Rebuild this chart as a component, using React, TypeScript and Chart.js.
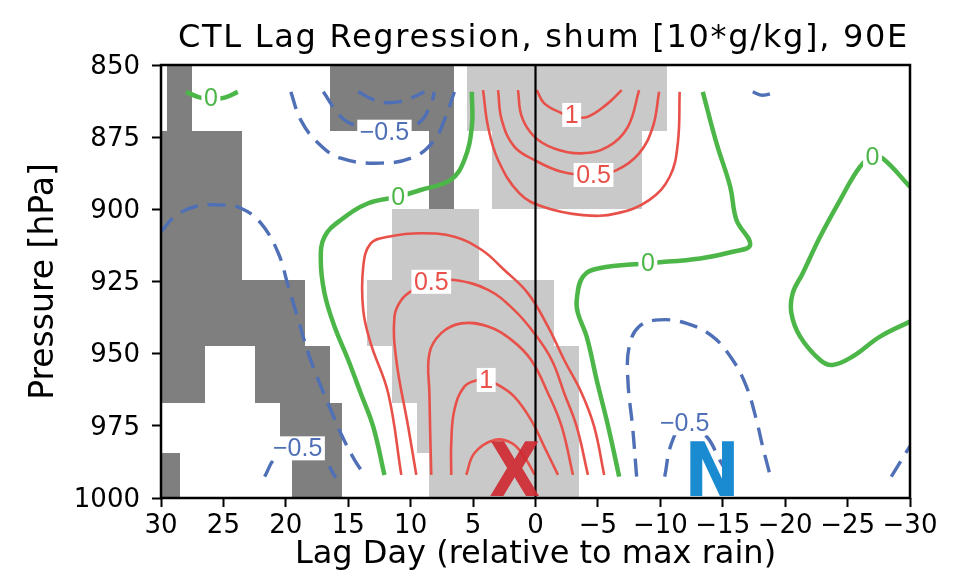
import { useEffect, useRef } from 'react';
import { Chart, registerables } from 'chart.js';

Chart.register(...registerables);

const TITLE = 'CTL Lag Regression, shum [10*g/kg], 90E';
const X_TITLE = 'Lag Day (relative to max rain)';
const Y_TITLE = 'Pressure [hPa]';

const X_TICKS = [30, 25, 20, 15, 10, 5, 0, -5, -10, -15, -20, -25, -30];
const Y_TICKS = [850, 875, 900, 925, 950, 975, 1000];

// pressure edges of the significance rows
const LEVEL_EDGES = [850, 873, 900, 924.5, 947.5, 967, 984.5, 1000];

// [row, fromDay, toDay]  significant negative (dark) / positive (light)
const NEG_SIG_CELLS: [number, number, number][] = [
  [0, 29.5, 27.5], [0, 16.5, 6.5],
  [1, 30, 23.5], [1, 8.5, 6.5],
  [2, 30, 23.5],
  [3, 30, 18.5],
  [4, 30, 26.5], [4, 22.5, 16.5],
  [5, 20.5, 15.5],
  [6, 30, 28.5], [6, 19.5, 15.5],
];
const POS_SIG_CELLS: [number, number, number][] = [
  [0, 5.5, -10.5],
  [1, 3.5, -8.5],
  [2, 11.5, 4.5],
  [3, 13.5, -1.5],
  [4, 11.5, -3.5],
  [5, 9.5, -3.5],
  [6, 8.5, -3.5],
];

// contour lines: [lag day, hPa]
const ZERO_A = [[28.0, 859.3], [27.0, 861.1], [26.0, 861.8], [24.9, 861.3], [23.85, 859.3]];
const ZERO_B = [[5.1, 859.3], [5.1, 871.4], [5.7, 882.9], [6.8, 889.8], [9.2, 893.3], [11.0, 895.6], [13.4, 897.9], [15.6, 903.7], [16.9, 909.5], [17.2, 917.5], [16.9, 929.1], [16.1, 940.6], [15.0, 952.2], [14.0, 963.7], [13.0, 975.3], [12.1, 992.0]];
const ZERO_C = [[-13.4, 859.3], [-14.5, 877.1], [-15.6, 892.2], [-16.1, 903.7], [-17.2, 912.3], [-15.8, 914.7], [-13.2, 917.0], [-9.0, 918.7], [-5.1, 920.4], [-3.8, 923.3], [-3.3, 931.4], [-3.4, 936.0], [-4.1, 944.1], [-4.9, 959.1], [-5.7, 973.0], [-6.3, 984.5], [-6.7, 992.6]];
const ZERO_D = [[-30, 892.2], [-27.8, 882.3], [-27.0, 881.8], [-26.0, 885.2], [-24.4, 896.8], [-22.8, 909.5], [-21.4, 922.2], [-20.6, 929.1], [-20.5, 936.0], [-21.2, 944.1], [-22.8, 952.2], [-23.8, 953.9], [-25.4, 951.0], [-27.6, 944.1], [-30, 938.9]];

const POS25_TOP = [[4.2, 858.7], [3.8, 871.4], [3.0, 882.9], [1.3, 894.4], [-0.6, 899.1], [-3.8, 902.0], [-6.5, 901.4], [-9.1, 896.8], [-10.75, 888.7], [-11.4, 877.1], [-11.55, 859.3]];
const POS50_TOP = [[3.0, 858.7], [2.7, 869.1], [1.7, 878.3], [0.1, 882.9], [-2.1, 887.0], [-4.6, 888.1], [-6.5, 886.4], [-8.3, 880.6], [-9.4, 871.4], [-9.9, 859.3]];
const POS75_TOP = [[1.4, 858.7], [1.1, 867.9], [0.1, 874.8], [-1.5, 878.9], [-3.7, 880.6], [-5.8, 878.3], [-7.4, 871.4], [-8.3, 858.7]];
const POS100_TOP = [[-0.1, 858.7], [-0.7, 863.3], [-2.1, 866.7], [-2.9, 867.9], [-4.2, 867.9], [-5.8, 863.3], [-6.9, 858.7]];

const POS25_LOW = [[10.75, 992.0], [11.8, 963.7], [13.2, 946.4], [13.8, 934.9], [13.8, 919.9], [13.2, 911.8], [11.8, 909.5], [9.15, 908.3], [6.5, 909.5], [4.3, 914.1], [2.5, 921.0], [0.6, 929.1], [-1.0, 940.6], [-2.3, 952.2], [-3.7, 963.7], [-4.7, 975.3], [-5.5, 992.0]];
const POS50_LOW = [[9.55, 992.0], [10.2, 975.3], [11.15, 952.2], [11.3, 937.2], [10.75, 931.4], [9.8, 927.9], [8.35, 925.1], [6.5, 924.5], [3.8, 927.9], [1.7, 934.9], [0.1, 942.9], [-1.3, 952.2], [-2.3, 963.7], [-3.3, 975.3], [-4.2, 992.0]];
const POS75_LOW = [[8.35, 992.0], [8.5, 963.7], [8.5, 949.9], [7.55, 942.9], [5.95, 939.5], [3.8, 940.6], [1.9, 945.3], [0.35, 952.2], [-1.0, 963.7], [-2.1, 975.3], [-3.0, 992.0]];
const POS100_LOW = [[6.75, 992.0], [6.75, 981.0], [6.5, 969.5], [5.7, 961.4], [4.6, 959.1], [3.9, 959.1], [3.0, 960.8], [1.7, 964.9], [0.35, 973.0], [-0.7, 982.2], [-1.8, 992.0]];
const POS125_LOW = [[5.55, 992.0], [4.9, 984.5], [3.3, 979.9], [1.9, 981.0], [0.9, 985.7], [0.05, 992.0]];

const NEG25_TOP = [[19.6, 859.3], [18.8, 869.1], [17.4, 877.1], [15.6, 882.3], [12.4, 884.0], [9.7, 881.8], [8.1, 876.0], [7.3, 869.1], [6.5, 859.3]];
const NEG50_TOP = [[17.0, 859.3], [15.6, 867.9], [14.5, 870.8], [12.1, 873.1], [9.4, 870.2], [8.35, 863.3], [8.1, 859.3]];
const NEG75_TOP = [[14.2, 859.3], [13.0, 862.0], [12.0, 863.0], [11.0, 862.8], [10.0, 861.5], [8.9, 859.3]];
const NEG25_LEFT = [[30.0, 907.8], [28.9, 902.5], [27.3, 899.1], [25.2, 898.5], [23.6, 899.6], [22.0, 904.8], [20.6, 915.2], [19.8, 926.8], [19.0, 938.3], [18.2, 949.9], [17.4, 959.1], [16.4, 969.5], [15.6, 977.6], [14.5, 986.8], [13.7, 992.0]];
const NEG50_LEFT = [[21.7, 992.6], [20.8, 986.0], [19.0, 983.0], [17.1, 986.0], [16.0, 993.0]];
const NEG25_RIGHT = [[-8.1, 992.6], [-7.8, 976.4], [-7.4, 959.1], [-7.5, 947.6], [-8.3, 940.6], [-9.9, 938.3], [-12.1, 939.5], [-14.2, 944.1], [-15.8, 952.2], [-16.9, 961.4], [-17.7, 973.0], [-18.2, 982.2], [-18.75, 991.4]];
const NEG50_RIGHT = [[-10.35, 992.6], [-10.9, 981.0], [-11.95, 974.1], [-13.7, 978.7], [-14.75, 986.8], [-15.55, 992.6]];
const NEG25_TOPRIGHT = [[-17.4, 859.3], [-18.2, 860.5], [-19.3, 859.3]];
const NEG25_BOTRIGHT = [[-28.5, 992.6], [-30.0, 982.0]];

const CONTOURS: { level: number; pts: number[][] }[] = [
  { level: 0, pts: ZERO_A }, { level: 0, pts: ZERO_B }, { level: 0, pts: ZERO_C }, { level: 0, pts: ZERO_D },
  { level: 0.25, pts: POS25_TOP }, { level: 0.5, pts: POS50_TOP }, { level: 0.75, pts: POS75_TOP }, { level: 1, pts: POS100_TOP },
  { level: 0.25, pts: POS25_LOW }, { level: 0.5, pts: POS50_LOW }, { level: 0.75, pts: POS75_LOW }, { level: 1, pts: POS100_LOW }, { level: 1.25, pts: POS125_LOW },
  { level: -0.25, pts: NEG25_TOP }, { level: -0.5, pts: NEG50_TOP }, { level: -0.75, pts: NEG75_TOP },
  { level: -0.25, pts: NEG25_LEFT }, { level: -0.5, pts: NEG50_LEFT },
  { level: -0.25, pts: NEG25_RIGHT }, { level: -0.5, pts: NEG50_RIGHT },
  { level: -0.25, pts: NEG25_TOPRIGHT }, { level: -0.25, pts: NEG25_BOTRIGHT },
];

// contour labels
const LABEL_DAYS = [26.0, 11.0, -9.0, -27.0, 12.1, 19.05, -11.95, -2.9, -4.65, 8.35, 3.95];
const LABEL_LEVELS = [861.6, 895.6, 918.7, 881.8, 873.1, 982.8, 974.1, 867.3, 888.1, 925.1, 959.1];
const LABEL_VALUES = [0, 0, 0, 0, -0.5, -0.5, -0.5, 1, 0.5, 0.5, 1];

// markers
const MARKER_TEXTS = ['X', 'N'];
const MARKER_DAYS = [1.67, -14.15];
const MARKER_LEVELS = [992.6, 992.6];

// reference line at lag 0
const REF_DAYS = [0, 0];
const REF_LEVELS = [850, 1000];

const GREEN = '#4cb748';
const RED = '#e8514a';
const BLUE = '#4f70b6';
const DARK = '#7f7f7f';
const LIGHT = '#c9c9c9';

const fmt = (v: number) => (v < 0 ? '\u2212' + Math.abs(v) : String(v));
const colorFor = (lv: number) => (lv === 0 ? GREEN : lv > 0 ? RED : BLUE);

const cellsPlugin = {
  id: 'cells',
  beforeDatasetsDraw(chart: any) {
    const { ctx, scales } = chart;
    const xs = scales.x, ys = scales.y;
    const draw = (cells: [number, number, number][], color: string) => {
      ctx.save();
      ctx.fillStyle = color;
      ctx.beginPath();
      for (const [row, d0, d1] of cells) {
        const x0 = Math.round(xs.getPixelForValue(d0));
        const x1 = Math.round(xs.getPixelForValue(d1));
        const y0 = Math.round(ys.getPixelForValue(LEVEL_EDGES[row]));
        const y1 = Math.round(ys.getPixelForValue(LEVEL_EDGES[row + 1]));
        ctx.rect(Math.min(x0, x1), Math.min(y0, y1), Math.abs(x1 - x0), Math.abs(y1 - y0));
      }
      ctx.fill();
      ctx.restore();
    };
    draw(NEG_SIG_CELLS, DARK);
    draw(POS_SIG_CELLS, LIGHT);
  },
};

const overlayPlugin = {
  id: 'overlay',
  afterDatasetsDraw(chart: any) {
    const { ctx, scales } = chart;
    const xs = scales.x, ys = scales.y;
    ctx.save();
    ctx.font = '25px "Liberation Sans", Arial, sans-serif';
    ctx.textAlign = 'center';
    ctx.textBaseline = 'middle';
    LABEL_VALUES.forEach((v, i) => {
      const px = xs.getPixelForValue(LABEL_DAYS[i]);
      const py = ys.getPixelForValue(LABEL_LEVELS[i]);
      const t = fmt(v);
      const w = ctx.measureText(t).width + 5;
      ctx.fillStyle = '#fff';
      ctx.fillRect(px - w / 2, py - 12, w, 24);
      ctx.fillStyle = colorFor(v);
      ctx.fillText(t, px, py + 1);
    });
    MARKER_TEXTS.forEach((t, i) => {
      const px = xs.getPixelForValue(MARKER_DAYS[i]);
      const py = ys.getPixelForValue(MARKER_LEVELS[i]);
      ctx.font = 'bold 74px "Liberation Sans Narrow", "DejaVu Sans Condensed", sans-serif';
      ctx.fillStyle = i === 0 ? 'rgba(206,42,50,0.92)' : '#1b8bd1';
      ctx.fillText(t, px, py);
    });
    ctx.restore();
  },
  afterDraw(chart: any) {
    const { ctx, chartArea } = chart;
    ctx.save();
    ctx.strokeStyle = '#000';
    ctx.lineWidth = 2.5;
    ctx.strokeRect(chartArea.left, chartArea.top, chartArea.right - chartArea.left, chartArea.bottom - chartArea.top);
    ctx.font = '32px "DejaVu Sans", sans-serif';
    (ctx as any).letterSpacing = '1.7px';
    ctx.fillStyle = '#000';
    ctx.textAlign = 'center';
    ctx.textBaseline = 'alphabetic';
    ctx.fillText(TITLE, (chartArea.left + chartArea.right) / 2 + 8, chartArea.top - 18);
    (ctx as any).letterSpacing = '0px';
    ctx.restore();
  },
};

export default function App() {
  const ref = useRef<HTMLCanvasElement>(null);
  useEffect(() => {
    const canvas = ref.current;
    if (!canvas) return;
    const datasets: any[] = [
      {
        data: REF_DAYS.map((d, i) => ({ x: d, y: REF_LEVELS[i] })),
        borderColor: '#000',
        borderWidth: 2.2,
        pointRadius: 0,
        tension: 0,
        fill: false,
      },
      ...CONTOURS.map((c) => ({
        data: c.pts.map(([x, y]) => ({ x, y })),
        borderColor: colorFor(c.level),
        borderWidth: c.level === 0 ? 4.5 : c.level > 0 ? 2.6 : 3.4,
        borderDash: c.level < 0 ? [18, 10] : [],
        pointRadius: 0,
        tension: 0.4,
        fill: false,
      })),
    ];
    const tickFont = { family: 'DejaVu Sans', size: 26 };
    const chart = new Chart(canvas, {
      type: 'line',
      data: { datasets },
      options: {
        responsive: false,
        animation: false,
        events: [],
        layout: { padding: { top: 65, right: 53, left: 0, bottom: 0 } },
        plugins: { legend: { display: false }, tooltip: { enabled: false }, title: { display: false } },
        scales: {
          x: {
            type: 'linear',
            min: -30,
            max: 30,
            reverse: true,
            afterBuildTicks: (s: any) => { s.ticks = X_TICKS.map((v) => ({ value: v })); },
            afterFit: (s: any) => { s.height = 80; },
            ticks: { callback: (v: any) => fmt(Number(v)), font: tickFont, color: '#000', padding: 4, maxRotation: 0, autoSkip: false },
            grid: { display: true, drawOnChartArea: false, drawTicks: true, tickLength: 9, tickWidth: 2, tickColor: '#000' },
            border: { display: false },
            title: { display: true, text: X_TITLE, color: '#000', font: { family: 'DejaVu Sans', size: 32 }, padding: { top: 0, bottom: 4 } },
          },
          y: {
            type: 'linear',
            min: 850,
            max: 1000,
            reverse: true,
            afterBuildTicks: (s: any) => { s.ticks = Y_TICKS.map((v) => ({ value: v })); },
            afterFit: (s: any) => { s.width = 161; },
            ticks: { callback: (v: any) => String(v), font: tickFont, color: '#000', padding: 12, labelOffset: 2, autoSkip: false },
            grid: { display: true, drawOnChartArea: false, drawTicks: true, tickLength: 9, tickWidth: 2, tickColor: '#000' },
            border: { display: false },
            title: { display: true, text: Y_TITLE, color: '#000', font: { family: 'DejaVu Sans', size: 33 }, padding: { top: 25, bottom: 0 } },
          },
        },
      } as any,
      plugins: [cellsPlugin, overlayPlugin],
    });
    return () => chart.destroy();
  }, []);
  return (
    <div style={{ position: 'absolute', left: 0, top: 0, width: 963, height: 578, background: '#fff' }}>
      <canvas ref={ref} width={963} height={578} style={{ display: 'block' }} />
    </div>
  );
}
